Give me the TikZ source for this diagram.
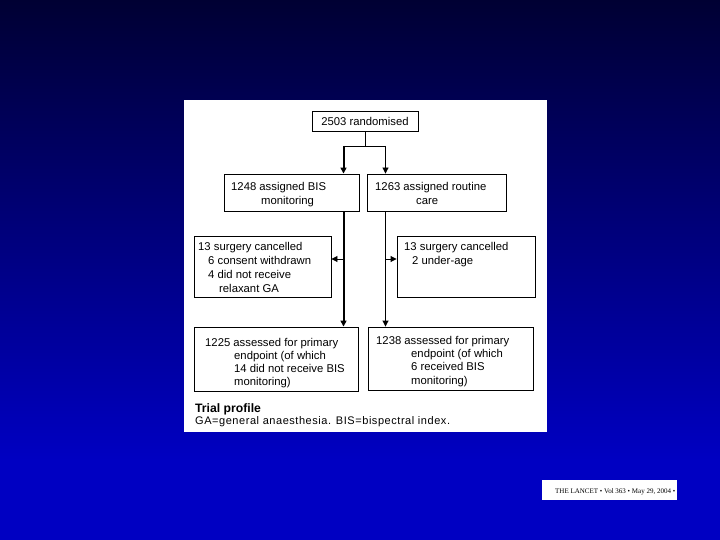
\documentclass[tikz,border=0pt]{standalone}
\usepackage{fontspec}
\setmainfont{Liberation Sans}
\newfontfamily\lancetfont{Liberation Serif}
\newfontfamily\capfont[LetterSpace=5.0]{Liberation Sans}
\usetikzlibrary{arrows.meta}
\definecolor{bgtop}{HTML}{000033}
\definecolor{bgbot}{HTML}{0000C2}
\begin{document}
\begin{tikzpicture}[x=1pt,y=-1pt,
  box/.style={draw=black, line width=0.9pt, fill=white, inner sep=0pt},
  txt/.style={anchor=base west, inner sep=0pt, font=\fontsize{11.3}{13}\selectfont},
  tip/.style={-{Triangle[length=6pt,width=6pt]}},
  branch/.style={line width=0.9pt},
  trunk/.style={line width=2pt}]
\useasboundingbox (0,0) rectangle (720,540);
\shade[top color=bgtop, bottom color=bgbot] (0,0) rectangle (720,460);
\fill[bgbot] (0,459) rectangle (720,540);
% panel
\node[fill=white, minimum width=363pt, minimum height=332pt, inner sep=0pt] (panel) at (365.5,266) {};
% boxes
\node[box, minimum width=106pt, minimum height=20pt, font=\fontsize{11.3}{13}\selectfont] (rand) at (365,121) {2503 randomised};
\node[box, minimum width=135pt, minimum height=37pt] (bis) at (291.5,192.5) {};
\node[box, minimum width=139pt, minimum height=37pt] (rout) at (436.5,192.5) {};
\node[box, minimum width=137pt, minimum height=61pt] (exL) at (262.5,266.5) {};
\node[box, minimum width=138pt, minimum height=61pt] (exR) at (466,266.5) {};
\node[box, minimum width=164pt, minimum height=64pt] (asL) at (276,359) {};
\node[box, minimum width=165pt, minimum height=63pt] (asR) at (450.5,358.5) {};
% texts
\node[txt] (t1) at (231,191) {1248 assigned BIS};
\node[txt] (t2) at (261,205) {monitoring};
\node[txt] (t3) at (375,191) {1263 assigned routine};
\node[txt] (t4) at (416,205) {care};
\node[txt] (t5) at (198,250) {13 surgery cancelled};
\node[txt] (t6) at (208,264) {6 consent withdrawn};
\node[txt] (t7) at (208,278) {4 did not receive};
\node[txt] (t8) at (219,292) {relaxant GA};
\node[txt] (t9) at (404,250) {13 surgery cancelled};
\node[txt] (t10) at (412,264) {2 under-age};
\node[txt] (t11) at (205,346) {1225 assessed for primary};
\node[txt] (t12) at (234,359) {endpoint (of which};
\node[txt] (t13) at (234,372) {14 did not receive BIS};
\node[txt] (t14) at (234,385) {monitoring)};
\node[txt] (t15) at (376,344) {1238 assessed for primary};
\node[txt] (t16) at (411,357) {endpoint (of which};
\node[txt] (t17) at (411,370) {6 received BIS};
\node[txt] (t18) at (411,384) {monitoring)};
\node[txt, font=\fontsize{12.2}{14}\bfseries] (cap1) at (195,412) {Trial profile};
\node[txt, font=\capfont\fontsize{11}{12}\selectfont] (cap2) at (195,424) {GA=general anaesthesia. BIS=bispectral index.};
% connectors
\coordinate (j0) at (365,146);
\coordinate (jL) at (343.5,146);
\coordinate (jR) at (385.5,146);
\coordinate (aL) at (343.5,259);
\coordinate (aR) at (385.5,259);
\draw[branch] (rand.south) -- (j0);
\draw[branch] (jL) -- (jR);
\draw[trunk, tip] (jL) -- (jL |- bis.north);
\draw[branch, tip] (jR) -- (jR |- rout.north);
\draw[trunk, tip] (jL |- bis.south) -- (jL |- asL.north);
\draw[branch, tip] (jR |- rout.south) -- (jR |- asR.north);
\draw[branch, tip] (aL) -- (aL -| exL.east);
\draw[branch, tip] (aR) -- (aR -| exR.west);
% journal tag
\node[fill=white, minimum width=135pt, minimum height=20pt, inner sep=0pt] (lancet) at (609.5,490) {};
\node[anchor=base west, inner sep=0pt, font=\lancetfont\fontsize{7}{8}\selectfont] (ltxt) at (555,493) {THE LANCET • Vol 363 • May 29, 2004 •};
\end{tikzpicture}
\end{document}
